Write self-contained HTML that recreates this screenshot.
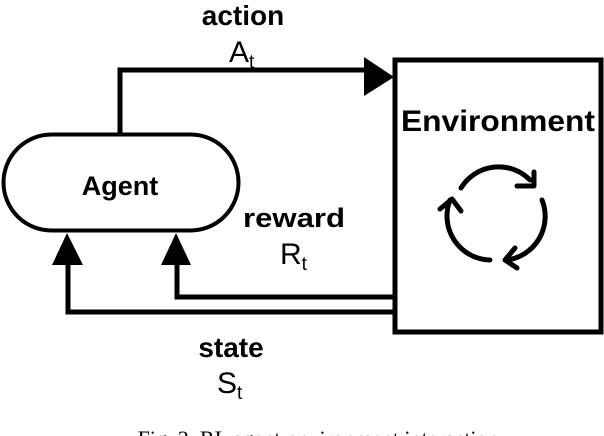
<!DOCTYPE html>
<html><head><style>
body{margin:0;background:#fff;width:604px;height:436px;overflow:hidden}
</style></head><body>
<svg width="604" height="436" xmlns="http://www.w3.org/2000/svg" style="position:absolute;left:0;top:0">
<g font-family="Liberation Sans, sans-serif" fill="#000">
<rect x="395" y="60" width="206" height="272" fill="none" stroke="#000" stroke-width="5"/>
<rect x="3.5" y="134.5" width="235" height="96" rx="48" fill="none" stroke="#000" stroke-width="4"/>
<polyline points="120,134 120,70 366,70" fill="none" stroke="#000" stroke-width="5"/>
<polygon points="364,57 364,96 394,77"/>
<polyline points="393,297 177,297 177,262" fill="none" stroke="#000" stroke-width="5"/>
<polygon points="161,265 191,265 176,233"/>
<polyline points="393,312 68,312 68,262" fill="none" stroke="#000" stroke-width="5"/>
<polygon points="52,265 83,265 67,233"/>
<g fill="none" stroke="#000" stroke-width="5" stroke-linecap="round" stroke-linejoin="round">
<path d="M461,188 A44,44 0 0 1 530,180"/>
<path d="M517,186 L534,186 L534,172"/>
<path d="M542,200 A44,44 0 0 1 507,260"/>
<path d="M515,248 L505,260 L517,268"/>
<path d="M490,260 A44,44 0 0 1 450,200"/>
<path d="M440,209 L452,199 L461,211"/>
</g>
<text x="243" y="25" font-size="28" font-weight="bold" text-anchor="middle">action</text>
<text x="229" y="62" font-size="30">A<tspan font-size="19" dy="6">t</tspan></text>
<text x="498" y="131" font-size="30" font-weight="bold" text-anchor="middle" textLength="194" lengthAdjust="spacingAndGlyphs">Environment</text>
<text x="120" y="195" font-size="27" font-weight="bold" text-anchor="middle">Agent</text>
<text x="243" y="227" font-size="27" font-weight="bold" textLength="102" lengthAdjust="spacingAndGlyphs">reward</text>
<text x="280" y="264" font-size="30">R<tspan font-size="19" dy="6">t</tspan></text>
<text x="231" y="357" font-size="28" font-weight="bold" text-anchor="middle">state</text>
<text x="217" y="393" font-size="30">S<tspan font-size="19" dy="6">t</tspan></text>
<text x="318" y="446" font-size="22" font-family="Liberation Serif, serif" text-anchor="middle">Fig. 2.  RL agent-environment interaction</text>
</g>
</svg>
</body></html>
